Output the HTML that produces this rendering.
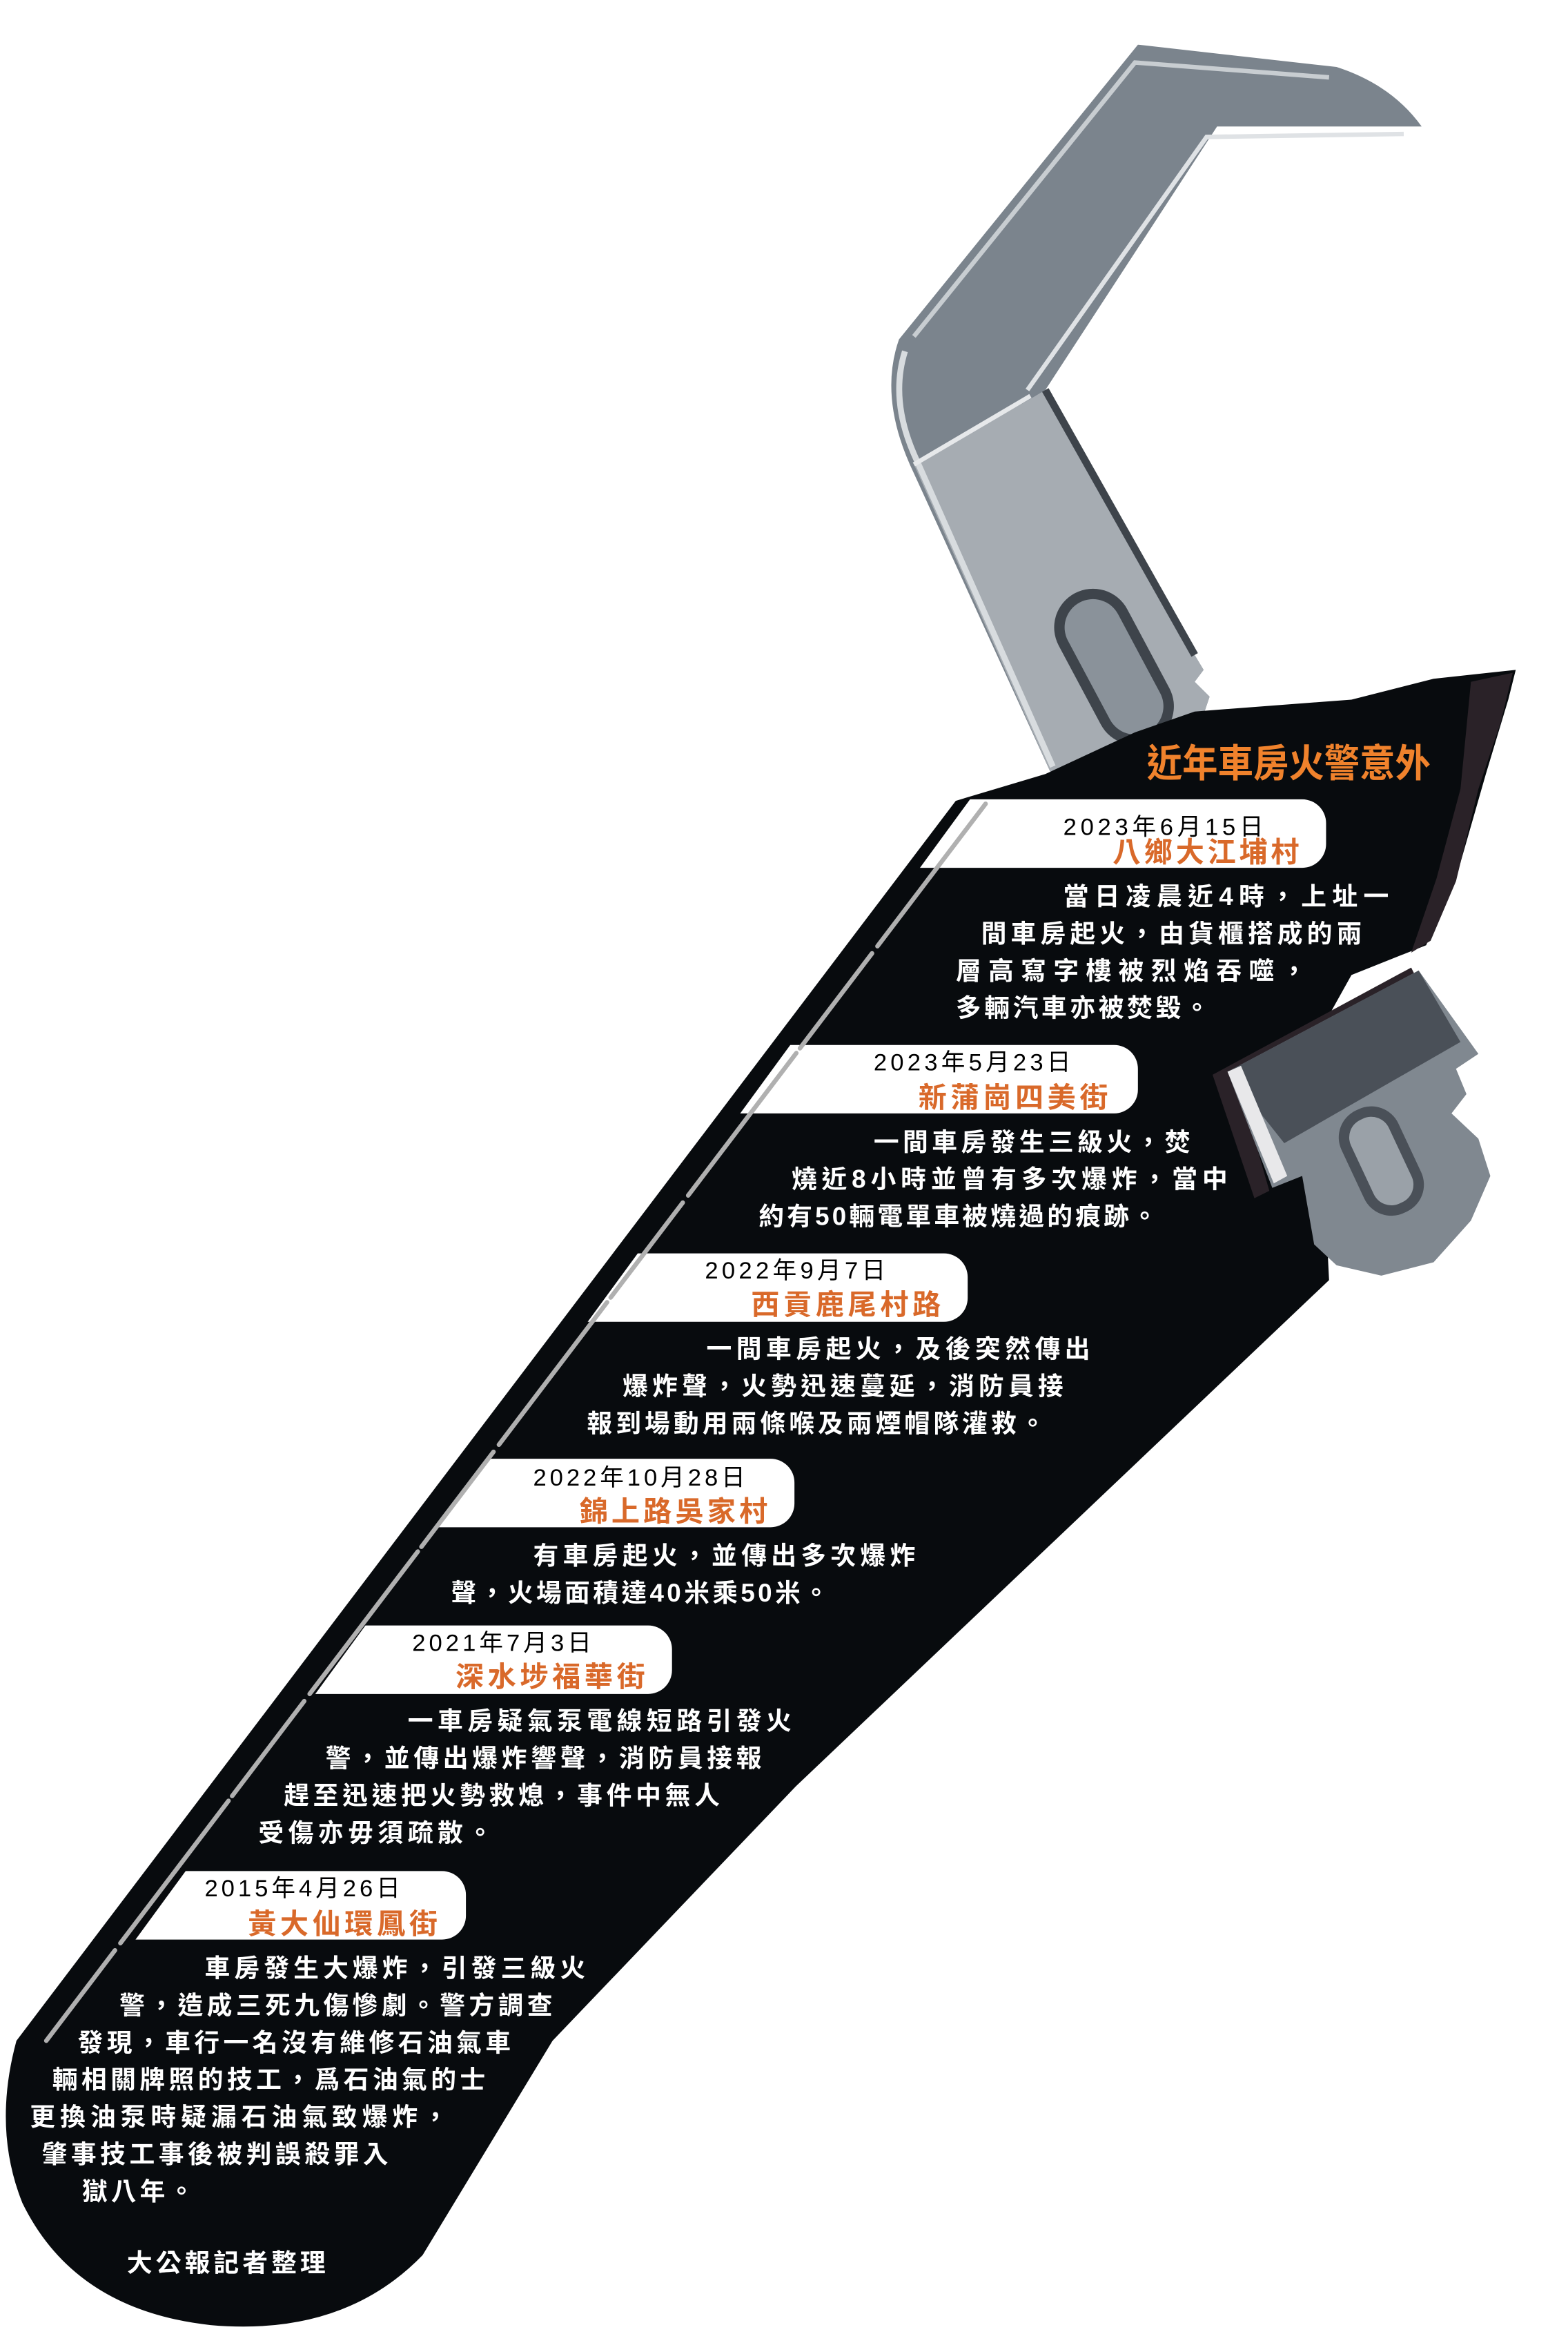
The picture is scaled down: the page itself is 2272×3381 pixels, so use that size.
<!DOCTYPE html>
<html><head><meta charset="utf-8">
<style>
html,body{margin:0;padding:0;background:#fff;}
svg{display:block;}
text{font-family:"Liberation Sans","Noto Sans CJK TC","Noto Sans CJK SC",sans-serif;}
.b{fill:#fff;font-weight:bold;font-size:17px;}
.d{fill:#000;font-size:16px;}
.o{fill:#d9692a;font-weight:bold;font-size:19px;}
</style></head>
<body>
<svg width="2272" height="3381" viewBox="0 0 1050 1568" preserveAspectRatio="none" xmlns="http://www.w3.org/2000/svg">
<defs>
<clipPath id="pc"><path d="M662,520 L1100,520 L1100,1400 L20,1400 Z"/></clipPath>
</defs>
<!-- upper gray jaw -->
<path d="M762,30 L895,45 Q932,57 952,85 L815,85 L700,262 L800,440 L806,450 L800,458 L810,468 L806,480 L814,490 L760,512 L720,525 L704,520 L612,318 Q588,268 602,228 Z" fill="#7b848d"/>
<path d="M612,312 L690,268 L700,262 L800,440 L806,450 L800,458 L810,468 L806,480 L814,490 L760,512 L720,525 L704,520 Z" fill="#a6acb2"/>
<path d="M606,236 Q596,268 612,305 L705,515" fill="none" stroke="#d8dcdf" stroke-width="4"/>
<path d="M612,226 L760,42 L890,52" fill="none" stroke="#c8cdd1" stroke-width="3"/>
<path d="M688,262 L808,92 L940,90" fill="none" stroke="#dfe2e5" stroke-width="3"/>
<path d="M700,262 L800,440" fill="none" stroke="#3e444b" stroke-width="5"/>
<path d="M612,312 L690,266" fill="none" stroke="#e6e8ea" stroke-width="3"/>
<rect x="720" y="392" width="52" height="112" rx="26" transform="rotate(-28 746 448)" fill="#3e444b"/>
<rect x="727" y="399" width="38" height="98" rx="19" transform="rotate(-28 746 448)" fill="#8a929a"/>
<!-- handle -->
<path d="M640,538 L700,520 L760,492 L800,478 L905,470 L960,456 L1015,450 L1010,470 L995,520 L975,590 L955,635 L905,655 L880,700 L885,760 L890,860 L533,1200 L370,1371 L283,1515 Q230,1570 141,1562 Q50,1552 15,1480 Q-5,1430 11,1371 Z" fill="#080b0e"/>
<path d="M985,458 L1013,452 L1005,485 L990,530 L975,592 L958,632 L945,640 L962,590 L978,530 Z" fill="#2a2228"/>
<!-- lower jaw shadow -->
<path d="M812,722 L945,650 L950,660 L830,730 L850,800 L840,805 Z" fill="#2a2228"/>
<!-- lower jaw -->
<path d="M822,720 L950,652 L990,708 L975,718 L982,735 L972,748 L990,765 L998,790 L985,820 L960,848 L925,857 L895,850 L880,836 L872,790 L852,798 Z" fill="#808890"/>
<path d="M822,720 L950,652 L978,700 L860,768 Z" fill="#4a5058"/>
<path d="M822,720 L831,716 L862,790 L853,795 Z" fill="#e8e8ea"/>
<rect x="904" y="742" width="42" height="76" rx="20" transform="rotate(-25 925 780)" fill="#4a5058"/>
<rect x="911" y="749" width="28" height="62" rx="13" transform="rotate(-25 925 780)" fill="#9aa1a8"/>
<!-- pills -->
<g clip-path="url(#pc)" fill="#fff">
<rect x="0" y="537" width="888" height="46" rx="16"/>
<rect x="0" y="702" width="762" height="46" rx="16"/>
<rect x="0" y="842" width="648" height="46" rx="16"/>
<rect x="0" y="980" width="532" height="46" rx="16"/>
<rect x="0" y="1092" width="450" height="46" rx="16"/>
<rect x="0" y="1257" width="312" height="46" rx="16"/>
</g>
<!-- stripe -->
<path d="M660,540 L31,1371" stroke="#b0b0b0" stroke-width="3" stroke-linecap="round" stroke-dasharray="120 6 80 4"/>
<text x="768" y="522" fill="#f0822c" font-weight="bold" font-size="26" textLength="190" lengthAdjust="spacingAndGlyphs">近年車房火警意外</text>

<text class="d" x="712" y="561" textLength="134">2023年6月15日</text>
<text class="o" x="745" y="579" textLength="125">八鄉大江埔村</text>
<text class="b" x="712" y="608" textLength="218">當日凌晨近4時，上址一</text>
<text class="b" x="657" y="633" textLength="255">間車房起火，由貨櫃搭成的兩</text>
<text class="b" x="640" y="658" textLength="235">層高寫字樓被烈焰吞噬，</text>
<text class="b" x="640" y="683" textLength="170">多輛汽車亦被焚毀。</text>

<text class="d" x="585" y="719" textLength="132">2023年5月23日</text>
<text class="o" x="615" y="744" textLength="127">新蒲崗四美街</text>
<text class="b" x="585" y="773" textLength="212">一間車房發生三級火，焚</text>
<text class="b" x="530" y="798" textLength="292">燒近8小時並曾有多次爆炸，當中</text>
<text class="b" x="508" y="823" textLength="267">約有50輛電單車被燒過的痕跡。</text>

<text class="d" x="472" y="859" textLength="121">2022年9月7日</text>
<text class="o" x="503" y="883" textLength="127">西貢鹿尾村路</text>
<text class="b" x="473" y="912" textLength="257">一間車房起火，及後突然傳出</text>
<text class="b" x="417" y="937" textLength="295">爆炸聲，火勢迅速蔓延，消防員接</text>
<text class="b" x="393" y="962" textLength="307">報到場動用兩條喉及兩煙帽隊灌救。</text>

<text class="d" x="357" y="998" textLength="142">2022年10月28日</text>
<text class="o" x="388" y="1022" textLength="126">錦上路吳家村</text>
<text class="b" x="357" y="1051" textLength="256">有車房起火，並傳出多次爆炸</text>
<text class="b" x="302" y="1076" textLength="253">聲，火場面積達40米乘50米。</text>

<text class="d" x="276" y="1109" textLength="120">2021年7月3日</text>
<text class="o" x="305" y="1133" textLength="127">深水埗福華街</text>
<text class="b" x="273" y="1162" textLength="257">一車房疑氣泵電線短路引發火</text>
<text class="b" x="218" y="1187" textLength="292">警，並傳出爆炸響聲，消防員接報</text>
<text class="b" x="190" y="1212" textLength="292">趕至迅速把火勢救熄，事件中無人</text>
<text class="b" x="173" y="1237" textLength="157">受傷亦毋須疏散。</text>

<text class="d" x="137" y="1274" textLength="131">2015年4月26日</text>
<text class="o" x="166" y="1299" textLength="127">黃大仙環鳳街</text>
<text class="b" x="137" y="1328" textLength="255">車房發生大爆炸，引發三級火</text>
<text class="b" x="80" y="1353" textLength="290">警，造成三死九傷慘劇。警方調查</text>
<text class="b" x="52" y="1378" textLength="290">發現，車行一名沒有維修石油氣車</text>
<text class="b" x="35" y="1403" textLength="290">輛相關牌照的技工，爲石油氣的士</text>
<text class="b" x="20" y="1428" textLength="280">更換油泵時疑漏石油氣致爆炸，</text>
<text class="b" x="28" y="1453" textLength="232">肇事技工事後被判誤殺罪入</text>
<text class="b" x="55" y="1478" textLength="75">獄八年。</text>
<text class="b" x="85" y="1526" textLength="133">大公報記者整理</text>
</svg>
</body></html>
